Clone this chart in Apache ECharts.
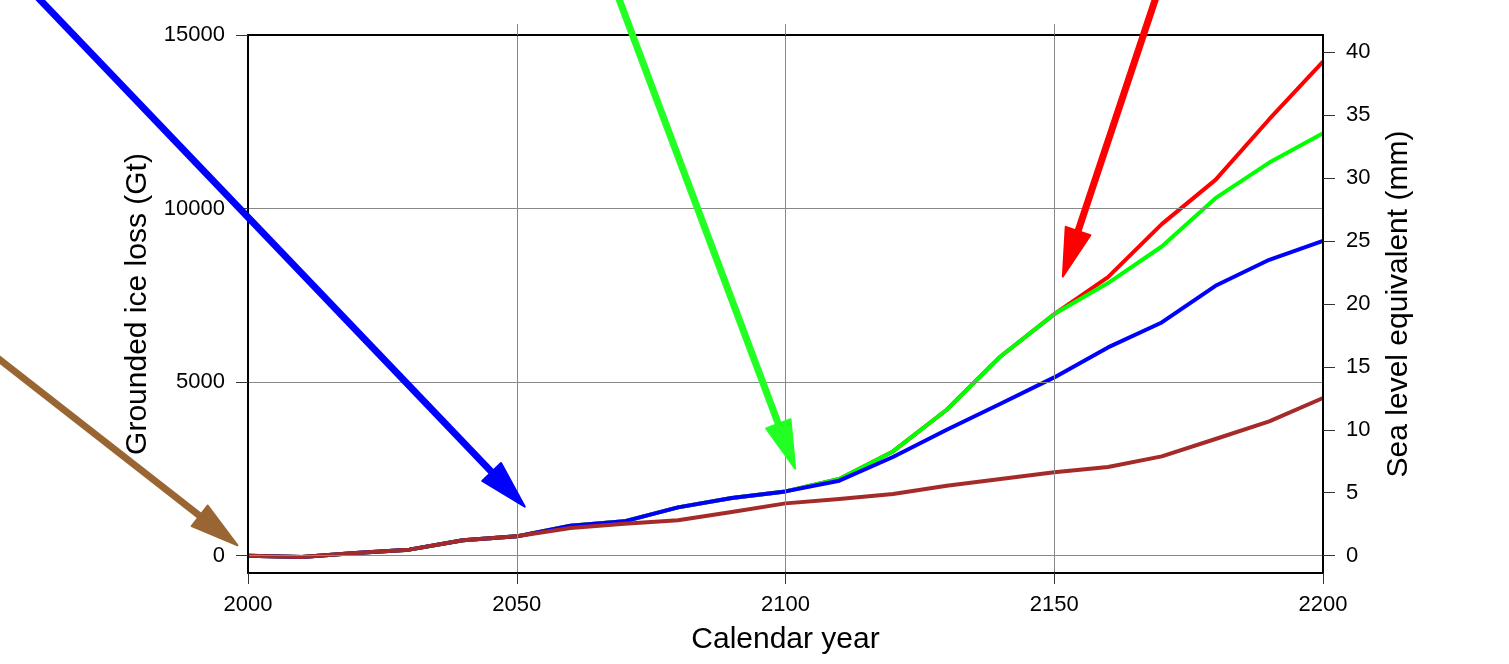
<!DOCTYPE html>
<html>
<head>
<meta charset="utf-8">
<title>Grounded ice loss</title>
<script src="https://cdn.jsdelivr.net/npm/echarts@6/dist/echarts.min.js"></script>
<style>
  html, body { margin: 0; padding: 0; background: #fff; }
  #chart { width: 1509px; height: 664px; }
</style>
</head>
<body>
<div id="chart"></div>
<script>
// Calendar years sampled every decade
const years = [2000, 2010, 2020, 2030, 2040, 2050, 2060, 2070, 2080, 2090, 2100,
               2110, 2120, 2130, 2140, 2150, 2160, 2170, 2180, 2190, 2200];

// Grounded ice loss (Gt) per scenario
const lossRed   = [0, -40, 78, 173, 441, 556, 864, 988, 1391, 1661, 1851,
                   2208, 3003, 4204, 5739, 6959, 8024, 9551, 10826, 12574, 14233];
const lossGreen = [0, -40, 78, 173, 441, 556, 864, 988, 1391, 1661, 1851,
                   2208, 3003, 4204, 5739, 6959, 7852, 8906, 10299, 11325, 12171];
const lossBlue  = [0, -40, 78, 173, 441, 556, 864, 988, 1391, 1661, 1851,
                   2160, 2842, 3628, 4377, 5135, 5999, 6718, 7774, 8523, 9070];
const lossBrown = [0, -40, 78, 173, 441, 556, 797, 921, 1017, 1258, 1506,
                   1632, 1776, 2016, 2208, 2400, 2553, 2860, 3360, 3867, 4541];

// Axis ranges and tick values
const yearTicks = [2000, 2050, 2100, 2150, 2200];
const yearGridTop = [2050, 2100, 2150];
const gtRange = [-500, 15000];
const gtTicks = [0, 5000, 10000, 15000];
const mmTicks = [0, 5, 10, 15, 20, 25, 30, 35, 40];
const GT_PER_MM = 362.5;

// Annotation arrows, [year, Gt] of tail and tip
const arrowTails = [[1957.8, 16583], [2067.7, 16583], [2170.0, 16583], [1950.1, 6095]];
const arrowTips  = [[2051.5, 1411],  [2101.8, 2505],  [2151.6, 8042],  [1998.05, 297]];
const arrowColors = ['#0000ff', '#22ff22', '#ff0000', '#996633'];

const FONT = "'Liberation Sans', Arial, Helvetica, sans-serif";
const TICK_FONT = 22;
const TITLE_FONT = 30;

const chart = echarts.init(document.getElementById('chart'), null, { renderer: 'canvas' });

function pairs(vals) { return years.map((y, i) => [y, vals[i]]); }

function lineSeries(name, vals, color, z) {
  return {
    name, type: 'line', data: pairs(vals), showSymbol: false, symbol: 'none',
    z, lineStyle: { color, width: 4, join: 'round' }, animation: false
  };
}

const frameLine = { show: true, onZero: false, lineStyle: { color: '#000', width: 2 } };
const plain = v => String(v);

chart.setOption({
  animation: false,
  backgroundColor: '#fff',
  grid: { left: 248, right: 186, top: 35, bottom: 91, show: false },
  xAxis: [{
    type: 'value', position: 'bottom', min: 2000, max: 2200, interval: 50,
    name: 'Calendar year', nameLocation: 'middle', nameGap: 52,
    nameTextStyle: { fontFamily: FONT, fontSize: TITLE_FONT, color: '#000' },
    axisLine: frameLine, z: 10,
    axisTick: { show: true, length: 11, lineStyle: { color: '#333', width: 1 } },
    axisLabel: { fontFamily: FONT, fontSize: TICK_FONT, color: '#000', margin: 21,
                 customValues: yearTicks, formatter: plain },
    splitLine: { show: true, lineStyle: { color: '#888', width: 1 } }
  }, {
    type: 'value', position: 'top', min: 2000, max: 2200, interval: 50,
    axisLine: frameLine, z: 10,
    axisTick: { show: true, length: 11, customValues: yearGridTop, lineStyle: { color: '#888', width: 1 } },
    axisLabel: { show: false },
    splitLine: { show: false }
  }],
  yAxis: [{
    type: 'value', position: 'left', min: gtRange[0], max: gtRange[1],
    name: 'Grounded ice loss (Gt)', nameLocation: 'middle', nameGap: 95,
    nameTextStyle: { fontFamily: FONT, fontSize: TITLE_FONT, color: '#000' },
    axisLine: frameLine, z: 10,
    axisTick: { show: true, length: 12, customValues: gtTicks, lineStyle: { color: '#333', width: 1 } },
    axisLabel: { fontFamily: FONT, fontSize: TICK_FONT, color: '#000', margin: 23,
                 customValues: gtTicks, formatter: plain },
    splitLine: { show: true, customValues: gtTicks, lineStyle: { color: '#888', width: 1 } }
  }, {
    type: 'value', position: 'right', min: gtRange[0] / GT_PER_MM, max: gtRange[1] / GT_PER_MM,
    name: 'Sea level equivalent (mm)', nameLocation: 'middle', nameGap: 61,
    nameTextStyle: { fontFamily: FONT, fontSize: TITLE_FONT, color: '#000' },
    axisLine: frameLine, z: 10,
    axisTick: { show: true, length: 12, customValues: mmTicks, lineStyle: { color: '#333', width: 1 } },
    axisLabel: { fontFamily: FONT, fontSize: TICK_FONT, color: '#000', margin: 23,
                 customValues: mmTicks, formatter: plain },
    splitLine: { show: false }
  }],
  series: [
    lineSeries('red', lossRed, '#ff0000', 2),
    lineSeries('green', lossGreen, '#00ff00', 3),
    lineSeries('blue', lossBlue, '#0000ff', 4),
    lineSeries('brown', lossBrown, '#a52a2a', 5)
  ]
});

// Arrows: shaft plus triangular head, placed through the axes' scales
function arrowGraphics() {
  const HEAD_LEN = 48, HEAD_W = 26, SHAFT_W = 7;
  const els = [];
  arrowTails.forEach((tail, i) => {
    const p0 = chart.convertToPixel({ xAxisIndex: 0, yAxisIndex: 0 }, tail);
    const p1 = chart.convertToPixel({ xAxisIndex: 0, yAxisIndex: 0 }, arrowTips[i]);
    const dx = p1[0] - p0[0], dy = p1[1] - p0[1];
    const len = Math.hypot(dx, dy);
    const ux = dx / len, uy = dy / len;
    const bx = p1[0] - ux * HEAD_LEN, by = p1[1] - uy * HEAD_LEN;
    const sx = p1[0] - ux * (HEAD_LEN - 4), sy = p1[1] - uy * (HEAD_LEN - 4);
    const px = -uy * HEAD_W / 2, py = ux * HEAD_W / 2;
    const color = arrowColors[i];
    els.push({
      type: 'line', z: 100, silent: true,
      shape: { x1: p0[0], y1: p0[1], x2: sx, y2: sy },
      style: { stroke: color, lineWidth: SHAFT_W, lineCap: 'butt' }
    });
    els.push({
      type: 'polygon', z: 101, silent: true,
      shape: { points: [[p1[0], p1[1]], [bx + px, by + py], [bx - px, by - py]] },
      style: { fill: color, stroke: color, lineWidth: 2, lineJoin: 'round' }
    });
  });
  return els;
}

chart.setOption({ graphic: arrowGraphics() });
</script>
</body>
</html>
